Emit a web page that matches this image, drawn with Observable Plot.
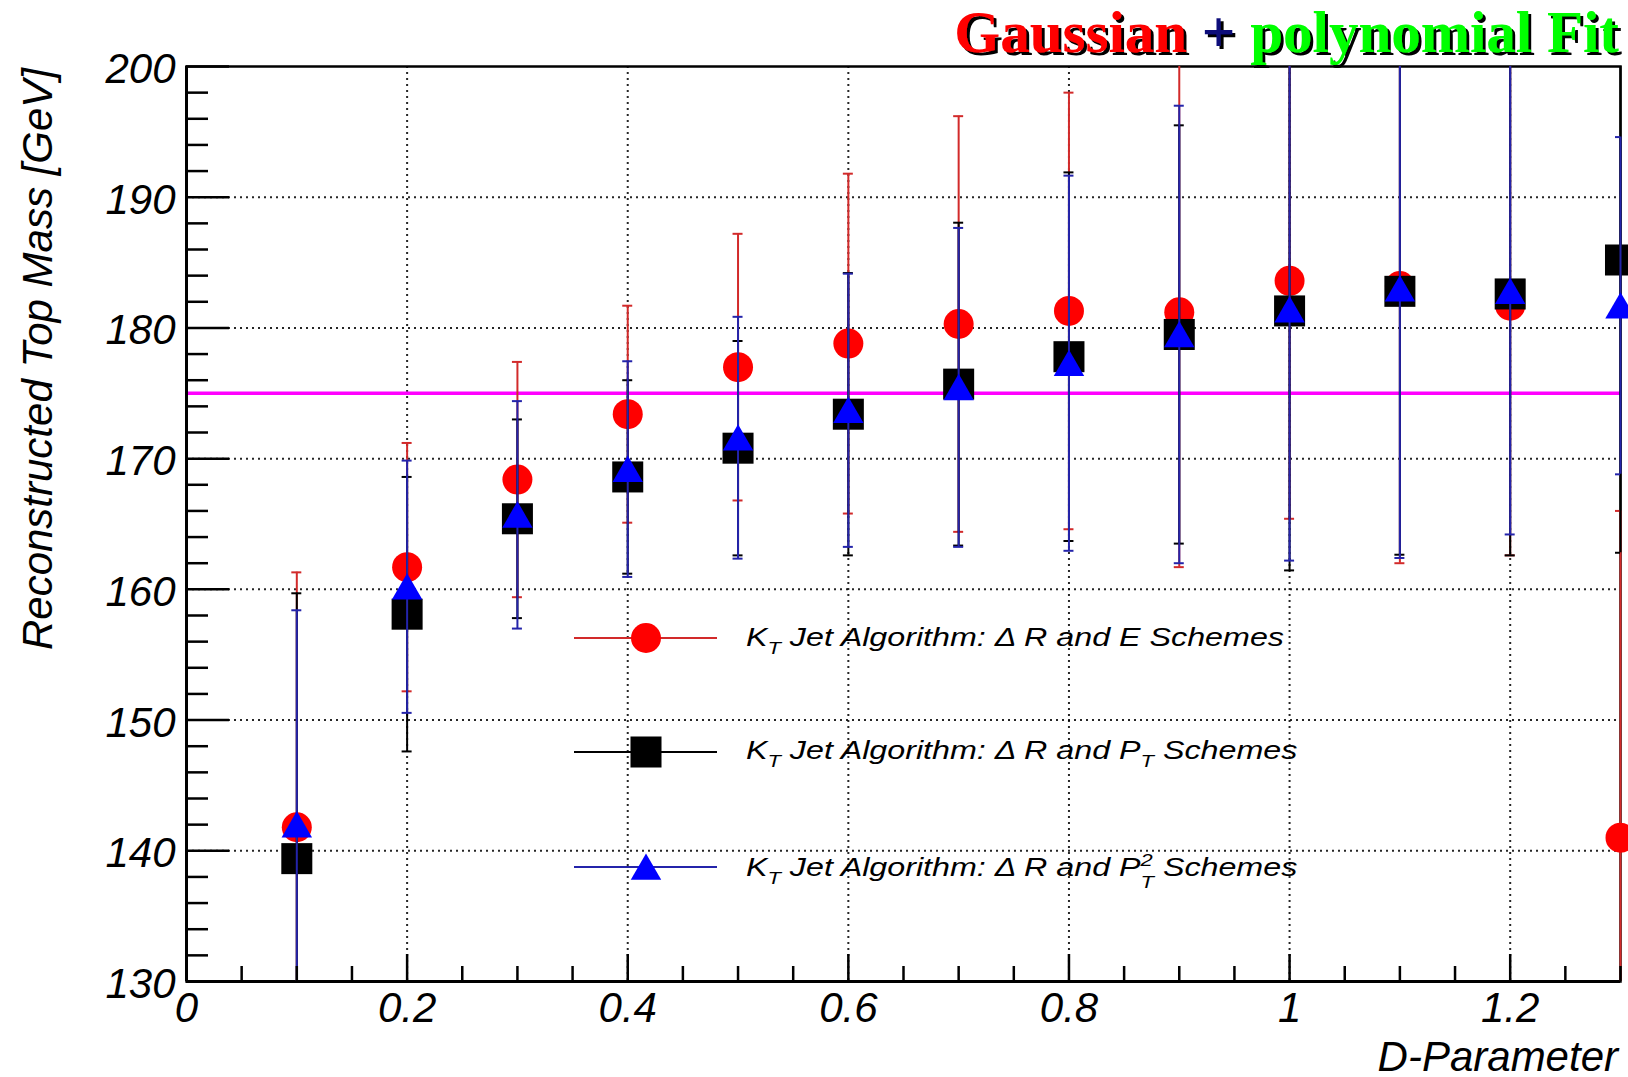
<!DOCTYPE html>
<html>
<head>
<meta charset="utf-8">
<script src="https://cdn.jsdelivr.net/npm/d3@7"></script>
<script src="https://cdn.jsdelivr.net/npm/@observablehq/plot@0.6"></script>
<style>
  html, body { margin: 0; padding: 0; background: #fff; }
  svg { display: block; }
</style>
</head>
<body>
<div id="chart"></div>
<script>
// D-parameter values of the kT jet algorithm
const dParam = [0.1, 0.2, 0.3, 0.4, 0.5, 0.6, 0.7, 0.8, 0.9, 1.0, 1.1, 1.2, 1.3];

// Reconstructed top mass [GeV] and its fit uncertainty, per recombination scheme
const massE   = [141.8, 161.7, 168.4, 173.4, 177.0, 178.8, 180.3, 181.3, 181.2, 183.6, 183.2, 181.7, 141.0];
const errE    = [19.5, 9.5, 9.0, 8.3, 10.2, 13.0, 15.9, 16.7, 19.5, 18.2, 21.2, 19.1, 25.0];
const massPT  = [139.4, 158.1, 165.4, 168.6, 170.8, 173.4, 175.7, 177.8, 179.5, 181.3, 182.8, 182.6, 185.2];
const errPT   = [20.3, 10.5, 7.6, 7.4, 8.2, 10.8, 12.35, 14.1, 16.0, 19.85, 20.15, 20.0, 22.4];
const massPT2 = [142.0, 160.2, 165.7, 169.2, 171.6, 173.7, 175.45, 177.3, 179.5, 181.4, 183.0, 182.8, 181.7];
const errPT2  = [16.4, 9.65, 8.7, 8.25, 9.25, 10.45, 12.2, 14.35, 17.5, 19.2, 20.6, 18.6, 12.9];

// Generated top mass (reference line)
const topMass = 175;

// Axis ticks
const xMajor = [0, 0.2, 0.4, 0.6, 0.8, 1, 1.2];
const xMinor = d3.range(0, 1.3001, 0.05).map(v => +v.toFixed(2)).filter(v => !xMajor.includes(v));
const yMajor = [130, 140, 150, 160, 170, 180, 190, 200];
const yMinor = d3.range(130, 201, 2).filter(v => v % 10 !== 0);

const W = 1628, H = 1077;
const M = {top: 66, right: 8, bottom: 96, left: 186};
const xDomain = [0, 1.3], yDomain = [130, 200];
const pxPerX = (W - M.left - M.right) / (xDomain[1] - xDomain[0]);
const capHalf = 5 / pxPerX;

const sansFont = "'Liberation Sans', Arial, Helvetica, sans-serif";

const series = [
  {mass: massE,   err: errE,   bar: "#d22a2a", fill: "#ff0000", symbol: "circle",   r: 15,   dy: 0},
  {mass: massPT,  err: errPT,  bar: "#000000", fill: "#000000", symbol: "square",   r: 17.5, dy: 0},
  {mass: massPT2, err: errPT2, bar: "#2424aa", fill: "#0000ff", symbol: "triangle", r: 11.3, dy: 4}
];

const rowsOf = s => dParam.map((d, i) => ({d, m: s.mass[i], lo: s.mass[i] - s.err[i], hi: s.mass[i] + s.err[i]}));

const gridStyle = {stroke: "#000", strokeOpacity: 0.85, strokeWidth: 2, strokeDasharray: "2,4"};

const marks = [
  Plot.gridY(yMajor.filter(v => v > yDomain[0] && v < yDomain[1]), gridStyle),
  Plot.gridX(xMajor.filter(v => v > xDomain[0]), gridStyle),
  Plot.ruleY([topMass], {stroke: "#ff00ff", strokeWidth: 3.5}),
  Plot.frame({stroke: "#000", strokeWidth: 2.5}),
  Plot.ruleX([xDomain[0]], {stroke: "#000", strokeWidth: 3}),
  Plot.ruleY([yDomain[0]], {stroke: "#000", strokeWidth: 3})
];

for (const s of series) {
  const rows = rowsOf(s);
  marks.push(
    Plot.ruleX(rows, {x: "d", y1: "lo", y2: "hi", stroke: s.bar, strokeWidth: 2}),
    Plot.ruleY(rows, {filter: r => r.hi <= yDomain[1], y: "hi", x1: r => r.d - capHalf, x2: r => r.d + capHalf, stroke: s.bar, strokeWidth: 2, clip: true}),
    Plot.ruleY(rows, {filter: r => r.lo >= yDomain[0], y: "lo", x1: r => r.d - capHalf, x2: r => r.d + capHalf, stroke: s.bar, strokeWidth: 2, clip: true}),
    Plot.dot(rows, {x: "d", y: "m", symbol: s.symbol, r: s.r, fill: s.fill, stroke: "none", dy: s.dy})
  );
}

const noText = () => "";
marks.push(
  Plot.axisX(xMinor, {tickSize: -15, tickFormat: noText, strokeWidth: 2.5, label: null}),
  Plot.axisX(xMajor, {tickSize: -27, tickFormat: noText, strokeWidth: 2.5, label: null}),
  Plot.axisX(xMajor, {tickSize: 0, tickPadding: 11, fontSize: 42, fontStyle: "italic", fontFamily: sansFont,
                      tickFormat: d3.format("~g"), label: null}),
  Plot.axisY(yMinor, {tickSize: -22, tickFormat: noText, strokeWidth: 2.5, label: null}),
  Plot.axisY(yMajor, {tickSize: -43, tickFormat: noText, strokeWidth: 2.5, label: null}),
  Plot.axisY(yMajor, {tickSize: 0, tickPadding: 11, dy: 3, fontSize: 42, fontStyle: "italic", fontFamily: sansFont,
                      tickFormat: d3.format("d"), label: null})
);

const chart = Plot.plot({
  width: W,
  height: H,
  marginTop: M.top,
  marginRight: M.right,
  marginBottom: M.bottom,
  marginLeft: M.left,
  style: {fontFamily: sansFont, background: "#fff", color: "#000", overflow: "visible"},
  x: {domain: xDomain},
  y: {domain: yDomain, clamp: true},
  marks
});

document.getElementById("chart").appendChild(chart);

const svg = d3.select(chart);

// Hard black drop shadow for the title
const defs = svg.append("defs");
const shadow = defs.append("filter").attr("id", "title-shadow")
  .attr("x", "-5%").attr("y", "-20%").attr("width", "110%").attr("height", "150%");
shadow.append("feOffset").attr("in", "SourceAlpha").attr("dx", 3).attr("dy", 3).attr("result", "off");
shadow.append("feFlood").attr("flood-color", "#000").attr("result", "black");
shadow.append("feComposite").attr("in", "black").attr("in2", "off").attr("operator", "in").attr("result", "shade");
const merge = shadow.append("feMerge");
merge.append("feMergeNode").attr("in", "shade");
merge.append("feMergeNode").attr("in", "SourceGraphic");

// Axis titles
svg.append("text")
  .attr("transform", `translate(52,68) rotate(-90)`)
  .attr("text-anchor", "end")
  .attr("font-family", sansFont).attr("font-style", "italic").attr("font-size", 42)
  .attr("fill", "#000")
  .text("Reconstructed Top Mass [GeV]");

svg.append("text")
  .attr("x", 1618).attr("y", 1071)
  .attr("text-anchor", "end")
  .attr("font-family", sansFont).attr("font-style", "italic").attr("font-size", 42)
  .attr("fill", "#000")
  .text("D-Parameter");

// Title
const serifFont = "'Liberation Serif', 'Times New Roman', serif";
const titleText = svg.append("text")
  .attr("x", 1619).attr("y", 52)
  .attr("text-anchor", "end")
  .attr("font-family", serifFont).attr("font-weight", "bold").attr("font-size", 59)
  .attr("filter", "url(#title-shadow)");
titleText.append("tspan").attr("fill", "#ff0000").text("Gaussian");
titleText.append("tspan").attr("fill", "#0c0c7a").text(" + ");
titleText.append("tspan").attr("fill", "#00ff00").text("polynomial Fit");

// Legend
const legend = [
  {s: series[0], lineY: 638, base: 646, parts: "E"},
  {s: series[1], lineY: 752, base: 759, parts: "PT"},
  {s: series[2], lineY: 867, base: 876, parts: "PT2"}
];
const symbolOf = {circle: d3.symbolCircle, square: d3.symbolSquare, triangle: d3.symbolTriangle};
const legG = svg.append("g");
for (const item of legend) {
  legG.append("line")
    .attr("x1", 574).attr("x2", 717).attr("y1", item.lineY).attr("y2", item.lineY)
    .attr("stroke", item.s.bar).attr("stroke-width", 2);
  legG.append("path")
    .attr("transform", `translate(646,${item.lineY + item.s.dy})`)
    .attr("d", d3.symbol(symbolOf[item.s.symbol], Math.PI * item.s.r * item.s.r)())
    .attr("fill", item.s.fill);

  const t = legG.append("text")
    .attr("transform", `translate(746,${item.base}) scale(1.29,1)`)
    .attr("text-anchor", "start")
    .attr("font-family", sansFont).attr("font-style", "italic").attr("font-size", 25)
    .attr("fill", "#000");
  t.append("tspan").text("K");
  t.append("tspan").attr("font-size", 17).attr("dy", 8).text("T");
  if (item.parts === "E") {
    t.append("tspan").attr("dy", -8).text(" Jet Algorithm: \u0394 R and E Schemes");
  } else if (item.parts === "PT") {
    t.append("tspan").attr("dy", -8).text(" Jet Algorithm: \u0394 R and P");
    t.append("tspan").attr("font-size", 17).attr("dy", 8).text("T");
    t.append("tspan").attr("dy", -8).text(" Schemes");
  } else {
    t.append("tspan").attr("dy", -8).text(" Jet Algorithm: \u0394 R and P");
    t.append("tspan").attr("font-size", 17).attr("dy", -10).text("2");
    t.append("tspan").attr("font-size", 17).attr("dx", -9.5).attr("dy", 22).text("T");
    t.append("tspan").attr("dy", -12).text(" Schemes");
  }
}
</script>
</body>
</html>
